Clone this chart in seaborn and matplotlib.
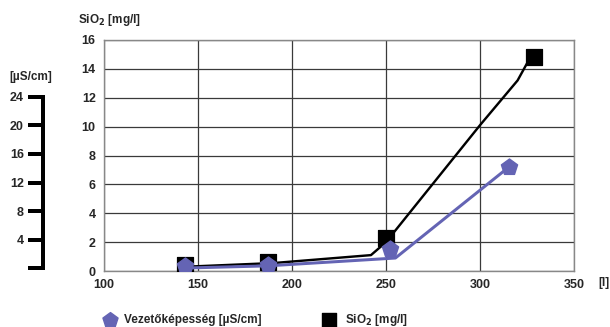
import matplotlib
matplotlib.use("Agg")
import matplotlib.pyplot as plt
import seaborn as sns
import pandas as pd

# SiO2 measured points [mg/l]
sio2_x = [143, 187, 250, 328.5]
sio2_y = [0.4, 0.65, 2.3, 14.8]
# SiO2 trend line as drawn
sio2_line_x = [144, 190, 242, 250, 300, 320, 325.5]
sio2_line_y = [0.3, 0.55, 1.1, 2.0, 10.1, 13.2, 14.5]

# conductivity points [µS/cm]
cond_x = [143, 187, 252, 315.5]
cond_y = [0.3, 0.45, 2.6, 14.2]
cond_line_x = [144, 187, 255, 315.5]
cond_line_y = [0.0, 0.3, 1.4, 14.2]

x_ticks = [100, 150, 200, 250, 300, 350]
sio2_ticks = [0, 2, 4, 6, 8, 10, 12, 14, 16]
cond_ticks = [0, 4, 8, 12, 16, 20, 24]

BLUE = "#6464b4"
PX = 72 / 100  # pixels -> points

sns.set_theme(style="white")
plt.rcParams["font.family"] = ["Liberation Sans", "DejaVu Sans"]
plt.rcParams["font.weight"] = "bold"

fig = plt.figure(figsize=(6.1, 3.27), dpi=100)
ax = fig.add_axes([104 / 610, 56 / 327, 470 / 610, 231 / 327])

df_line = pd.DataFrame({"x": sio2_line_x, "y": sio2_line_y})
df_pts = pd.DataFrame({"x": sio2_x, "y": sio2_y})
sns.lineplot(data=df_line, x="x", y="y", ax=ax, color="black", lw=2 * PX * 1.2, sort=False)
sns.scatterplot(data=df_pts, x="x", y="y", ax=ax, marker="s", s=120, color="black",
                edgecolor="black", zorder=5)

ax.set_xlim(100, 350)
ax.set_ylim(0, 16)
ax.set_xticks(x_ticks)
ax.set_yticks(sio2_ticks)
ax.grid(True, color="#3a3a3a", lw=0.9)
ax.tick_params(length=0, labelsize=9, pad=6)
for sp in ax.spines.values():
    sp.set_color("#888888")
    sp.set_linewidth(1)
ax.set_xlabel("")
ax.set_ylabel("")

# secondary conductivity scale
ax2 = ax.twinx()
ax2.set_ylim(-3 / 7.125, 228 / 7.125)
df_cl = pd.DataFrame({"x": cond_line_x, "y": cond_line_y})
df_cp = pd.DataFrame({"x": cond_x, "y": cond_y})
sns.lineplot(data=df_cl, x="x", y="y", ax=ax2, color=BLUE, lw=2.5 * PX * 1.2, sort=False)
sns.scatterplot(data=df_cp, x="x", y="y", ax=ax2, marker="p", s=150, color=BLUE,
                edgecolor=BLUE, zorder=5)
ax2.set_xlabel("")
ax2.set_ylabel("")
ax2.yaxis.set_ticks_position("left")
ax2.yaxis.set_label_position("left")
for k in ["right", "top", "bottom"]:
    ax2.spines[k].set_visible(False)
ax2.spines["left"].set_position(("outward", 61 * PX))
ax2.spines["left"].set_bounds(0, 24)
ax2.spines["left"].set_linewidth(4 * PX)
ax2.spines["left"].set_color("black")
ax2.spines["left"].set_capstyle("projecting")
ax2.set_yticks(cond_ticks)
ax2.set_yticklabels([""] + [str(t) for t in cond_ticks[1:]])
ax2.tick_params(axis="y", length=15 * PX, width=4 * PX, direction="out", labelsize=9,
                pad=3, color="black")
ax2.grid(False)

fig.text(78 / 610, 1 - 20 / 327, "SiO$_2$ [mg/l]", fontsize=8.5, fontweight="bold",
         va="center", ha="left")
fig.text(9 / 610, 1 - 77 / 327, "[µS/cm]", fontsize=8.5, fontweight="bold",
         va="center", ha="left")
fig.text(598 / 610, 1 - 283 / 327, "[l]", fontsize=8.5, fontweight="bold",
         va="center", ha="left")

# legend row
leg_ax = fig.add_axes([0, 0, 1, 1], facecolor="none")
leg_ax.set_xlim(0, 610)
leg_ax.set_ylim(327, 0)
leg_ax.axis("off")
leg_ax.scatter([110], [320], marker="p", s=130, color=BLUE)
leg_ax.scatter([329], [320], marker="s", s=100, color="black")
leg_ax.text(124, 320, "Vezetőképesség [µS/cm]", fontsize=8.5, fontweight="bold", va="center")
leg_ax.text(345, 320, "SiO$_2$ [mg/l]", fontsize=8.5, fontweight="bold", va="center")

fig.savefig("out.png", dpi=100)
